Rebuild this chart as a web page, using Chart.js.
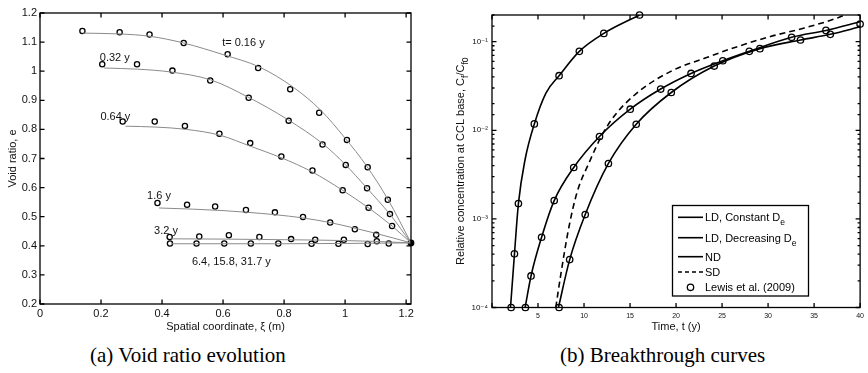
<!DOCTYPE html>
<html><head><meta charset="utf-8">
<script src="https://cdn.jsdelivr.net/npm/chart.js@4/dist/chart.umd.min.js"></script>
<style>
html,body{margin:0;padding:0;background:#fff;}
body{width:868px;height:373px;position:relative;overflow:hidden;}
.panel{position:absolute;top:0;width:434px;height:340px;}
#pa{left:0}
#pb{left:434px}
.cap{position:absolute;font-family:"Liberation Serif","Times New Roman",serif;font-size:21px;line-height:21px;white-space:nowrap;color:#000;}
</style></head><body>
<div class="panel" id="pa"><canvas id="ca"></canvas></div>
<div class="panel" id="pb"><canvas id="cb"></canvas></div>
<div class="cap" style="left:90px;top:345px">(a) Void ratio evolution</div>
<div class="cap" style="left:560px;top:345px">(b) Breakthrough curves</div>
<script>
// ---------------- Panel (a): void ratio profiles ----------------
const timeLabels = ['t= 0.16 y', '0.32 y', '0.64 y', '1.6 y', '3.2 y', '6.4, 15.8, 31.7 y'];

const xiLine016 = [0.14, 0.26, 0.36, 0.47, 0.60, 0.72, 0.83, 0.92, 1.00, 1.07, 1.14, 1.216];
const eLine016  = [1.131, 1.128, 1.120, 1.097, 1.057, 1.014, 0.945, 0.866, 0.770, 0.675, 0.560, 0.410];
const xiLine032 = [0.21, 0.32, 0.43, 0.56, 0.68, 0.81, 0.93, 1.00, 1.07, 1.147, 1.216];
const eLine032  = [1.011, 1.007, 0.997, 0.970, 0.912, 0.835, 0.748, 0.680, 0.600, 0.508, 0.410];
const xiLine064 = [0.28, 0.38, 0.48, 0.59, 0.69, 0.79, 0.89, 0.99, 1.08, 1.154, 1.216];
const eLine064  = [0.811, 0.808, 0.800, 0.780, 0.742, 0.703, 0.655, 0.592, 0.528, 0.468, 0.410];
const xiLine16  = [0.39, 0.50, 0.60, 0.68, 0.77, 0.86, 0.95, 1.03, 1.10, 1.216];
const eLine16   = [0.530, 0.526, 0.521, 0.515, 0.507, 0.496, 0.480, 0.461, 0.443, 0.410];
const xiLine32  = [0.43, 0.60, 0.80, 1.00, 1.10, 1.216];
const eLine32   = [0.424, 0.423, 0.421, 0.418, 0.415, 0.410];
const xiLine64  = [0.43, 0.80, 1.216];
const eLine64   = [0.407, 0.407, 0.410];

const xiPts016 = [0.139, 0.261, 0.359, 0.471, 0.615, 0.715, 0.820, 0.915, 1.006, 1.074, 1.140];
const ePts016  = [1.138, 1.134, 1.126, 1.097, 1.058, 1.011, 0.938, 0.857, 0.764, 0.670, 0.558];
const xiPts032 = [0.204, 0.318, 0.434, 0.558, 0.684, 0.815, 0.926, 1.002, 1.072, 1.147];
const ePts032  = [1.024, 1.024, 1.002, 0.968, 0.909, 0.830, 0.748, 0.678, 0.598, 0.509];
const xiPts064 = [0.271, 0.376, 0.475, 0.588, 0.689, 0.791, 0.893, 0.992, 1.077, 1.154];
const ePts064  = [0.827, 0.827, 0.812, 0.785, 0.753, 0.707, 0.659, 0.591, 0.531, 0.468];
const xiPts16  = [0.385, 0.482, 0.574, 0.675, 0.770, 0.862, 0.951, 1.032, 1.102];
const ePts16   = [0.547, 0.541, 0.535, 0.523, 0.515, 0.499, 0.480, 0.457, 0.438];
const xiPts32  = [0.425, 0.522, 0.619, 0.719, 0.823, 0.902, 0.996, 1.104];
const ePts32   = [0.430, 0.432, 0.436, 0.430, 0.423, 0.421, 0.421, 0.416];
const xiPts64  = [0.426, 0.513, 0.604, 0.691, 0.781, 0.890, 0.978, 1.074, 1.143];
const ePts64   = [0.408, 0.408, 0.408, 0.408, 0.408, 0.407, 0.407, 0.406, 0.408];
const xiBase = [1.216];
const eBase  = [0.410];

const xTicksA = [0, 0.2, 0.4, 0.6, 0.8, 1.0, 1.2];
const yTicksA = [0.2, 0.3, 0.4, 0.5, 0.6, 0.7, 0.8, 0.9, 1.0, 1.1, 1.2];

// ---------------- Panel (b): breakthrough curves ----------------
const legendLabels = ['LD, Constant D_e', 'LD, Decreasing D_e', 'ND', 'SD', 'Lewis et al. (2009)'];

const tLDc = [2.01, 2.44, 2.87, 3.59, 4.60, 5.86, 7.29, 9.49, 12.15, 16.03];
const cLDc = [1e-4, 4.0e-4, 1.49e-3, 4.65e-3, 0.0118, 0.0263, 0.0413, 0.0778, 0.124, 0.2];
const tLDd = [3.60, 4.24, 5.39, 6.76, 8.88, 11.68, 15.02, 18.33, 21.63, 25.08, 27.96, 32.56, 36.29, 40.0];
const cLDd = [1e-4, 2.27e-4, 6.21e-4, 1.61e-3, 3.80e-3, 8.51e-3, 0.0173, 0.0292, 0.0438, 0.0609, 0.0778, 0.112, 0.134, 0.168];
const tND  = [7.22, 8.44, 10.13, 12.65, 15.67, 19.48, 24.15, 29.11, 33.52, 36.76, 40.0];
const cND  = [1e-4, 3.47e-4, 1.12e-3, 4.22e-3, 0.0117, 0.0267, 0.0531, 0.0834, 0.1045, 0.121, 0.147];
const tSD  = [6.93, 7.47, 8.37, 9.27, 10.53, 11.97, 13.40, 15.98, 19.56, 23.16, 26.75, 30.34, 33.93, 37.52, 38.30];
const cSD  = [1e-4, 2.33e-4, 8.2e-4, 2.04e-3, 4.26e-3, 8.9e-3, 0.0150, 0.0275, 0.047, 0.0653, 0.0885, 0.115, 0.1426, 0.185, 0.2];
const tLewis = [2.08, 2.44, 2.87, 4.60, 7.29, 9.49, 12.15, 16.03,
                3.63, 4.24, 5.39, 6.76, 8.88, 11.68, 15.02, 18.33, 21.63, 25.08, 27.96, 32.56, 36.29, 40.0,
                7.29, 8.44, 10.13, 12.65, 15.67, 19.48, 24.15, 29.11, 33.52, 36.76];
const cLewis = [1e-4, 4.03e-4, 1.49e-3, 0.0118, 0.0413, 0.0778, 0.124, 0.2,
                1e-4, 2.27e-4, 6.21e-4, 1.61e-3, 3.80e-3, 8.51e-3, 0.0173, 0.0292, 0.0438, 0.0609, 0.0778, 0.112, 0.134, 0.158,
                1e-4, 3.47e-4, 1.12e-3, 4.22e-3, 0.0117, 0.0267, 0.0531, 0.0834, 0.1045, 0.121];
const xTicksB = [0, 5, 10, 15, 20, 25, 30, 35, 40];

// ---------------- helpers ----------------
const FONT = '"Liberation Sans", Arial, Helvetica, "DejaVu Sans", sans-serif';
Chart.defaults.font.family = FONT;
Chart.defaults.color = '#000';
const pts = (xs, ys) => xs.map((v, i) => ({x: v, y: ys[i]}));

function richParts(s) {
  const parts = []; const re = /_\{([^}]*)\}|_(.)/g; let last = 0, m;
  while ((m = re.exec(s))) {
    if (m.index > last) parts.push({t: s.slice(last, m.index), sub: false});
    parts.push({t: m[1] !== undefined ? m[1] : m[2], sub: true});
    last = re.lastIndex;
  }
  if (last < s.length) parts.push({t: s.slice(last), sub: false});
  return parts;
}
function drawRich(ctx, s, x, y, size, align) {
  const parts = richParts(s); const sub = size * 0.78;
  let w = 0;
  parts.forEach(p => { ctx.font = (p.sub ? sub : size) + 'px ' + FONT; p.w = ctx.measureText(p.t).width; w += p.w; });
  let cx = align === 'center' ? x - w / 2 : x;
  ctx.textBaseline = 'alphabetic'; ctx.textAlign = 'left';
  parts.forEach(p => {
    ctx.font = (p.sub ? sub : size) + 'px ' + FONT;
    ctx.fillText(p.t, cx, y + (p.sub ? size * 0.38 : 0));
    cx += p.w;
  });
}

const boxTicks = {
  id: 'boxTicks',
  afterDraw(chart, args, o) {
    const {ctx, chartArea: a, scales: {x, y}} = chart;
    ctx.save();
    ctx.strokeStyle = '#000'; ctx.lineWidth = o.lw; ctx.setLineDash([]);
    ctx.beginPath();
    x.ticks.forEach(t => {
      const p = x.getPixelForValue(t.value);
      ctx.moveTo(p, a.bottom); ctx.lineTo(p, a.bottom - o.major);
      ctx.moveTo(p, a.top); ctx.lineTo(p, a.top + o.major);
    });
    y.ticks.forEach(t => {
      const p = y.getPixelForValue(t.value);
      let L = o.major;
      if (y.type === 'logarithmic') { const l = Math.log10(t.value); if (Math.abs(l - Math.round(l)) > 1e-6) L = o.minor; }
      ctx.moveTo(a.left, p); ctx.lineTo(a.left + L, p);
      ctx.moveTo(a.right, p); ctx.lineTo(a.right - L, p);
    });
    ctx.stroke();
    ctx.strokeRect(a.left, a.top, a.right - a.left, a.bottom - a.top);
    ctx.restore();
  }
};

const curveLabels = {
  id: 'curveLabels',
  afterDatasetsDraw(chart, args, o) {
    if (!o.items) return;
    const {ctx, scales: {x, y}} = chart;
    ctx.save(); ctx.font = '11px ' + FONT; ctx.fillStyle = '#111';
    ctx.textBaseline = 'middle'; ctx.textAlign = 'left';
    o.items.forEach(it => ctx.fillText(it.text, x.getPixelForValue(it.x), y.getPixelForValue(it.y)));
    ctx.restore();
  }
};

// ---------------- Chart (a) ----------------
const lineA = (xs, ys) => ({data: pts(xs, ys), showLine: true, borderColor: '#8a8a8a', borderWidth: 1,
  pointRadius: 0, cubicInterpolationMode: 'monotone', fill: false});
const ptsA = (xs, ys) => ({data: pts(xs, ys), showLine: false, pointStyle: 'circle', pointRadius: 2.6,
  pointBorderWidth: 1.3, pointBorderColor: '#000', pointBackgroundColor: 'rgba(0,0,0,0)', clip: false});

const labelAnchorsA = [[0.597, 1.098], [0.196, 1.047], [0.198, 0.844], [0.351, 0.571], [0.374, 0.451], [0.498, 0.345]];

new Chart(document.getElementById('ca'), {
  type: 'scatter',
  data: {datasets: [
    lineA(xiLine016, eLine016), lineA(xiLine032, eLine032), lineA(xiLine064, eLine064),
    lineA(xiLine16, eLine16), lineA(xiLine32, eLine32), lineA(xiLine64, eLine64),
    ptsA(xiPts016, ePts016), ptsA(xiPts032, ePts032), ptsA(xiPts064, ePts064),
    ptsA(xiPts16, ePts16), ptsA(xiPts32, ePts32), ptsA(xiPts64, ePts64),
    {data: pts(xiBase, eBase), showLine: false, pointRadius: 3.4, pointBackgroundColor: '#000', pointBorderColor: '#000', pointBorderWidth: 0, clip: false}
  ]},
  options: {
    responsive: true, maintainAspectRatio: false, animation: false, devicePixelRatio: 1,
    layout: {padding: {left: 0, right: 23, top: 13, bottom: 0}},
    plugins: {legend: {display: false}, tooltip: {enabled: false},
      boxTicks: {lw: 1.3, major: 4.5, minor: 2.5},
      curveLabels: {items: timeLabels.map((t, i) => ({text: t, x: labelAnchorsA[i][0], y: labelAnchorsA[i][1]}))}},
    scales: {
      x: {type: 'linear', min: 0, max: 1.216,
        afterBuildTicks: s => { s.ticks = xTicksA.map(v => ({value: v})); },
        afterFit: s => { s.height = 36; },
        grid: {display: false, drawTicks: false}, border: {display: false},
        ticks: {font: {size: 11}, color: '#111', padding: 3, maxRotation: 0, autoSkip: false,
          callback: v => String(+(+v).toFixed(1))},
        title: {display: true, text: 'Spatial coordinate, ξ (m)', font: {size: 11}, color: '#111', padding: {top: 0, bottom: 6}}},
      y: {type: 'linear', min: 0.2, max: 1.2,
        afterBuildTicks: s => { s.ticks = yTicksA.map(v => ({value: v})); },
        afterFit: s => { s.width = 40; },
        grid: {display: false, drawTicks: false}, border: {display: false},
        ticks: {font: {size: 11}, color: '#111', padding: 3, autoSkip: false,
          callback: v => String(+(+v).toFixed(1))},
        title: {display: true, text: 'Void ratio, e', font: {size: 11}, color: '#111', padding: {top: 6, bottom: 0}}}
    }
  },
  plugins: [boxTicks, curveLabels]
});

// ---------------- Chart (b) ----------------
const lineB = (xs, ys, dash) => ({data: pts(xs, ys), showLine: true, borderColor: '#000', borderWidth: 1.6,
  borderDash: dash || [], pointRadius: 0, cubicInterpolationMode: 'monotone', fill: false});

const legendB = {
  id: 'legendB',
  afterDraw(chart, args, o) {
    const ctx = chart.ctx; ctx.save();
    ctx.fillStyle = '#fff'; ctx.fillRect(o.x0, o.y0, o.x1 - o.x0, o.y1 - o.y0);
    ctx.strokeStyle = '#000'; ctx.lineWidth = 1.3; ctx.setLineDash([]);
    ctx.strokeRect(o.x0, o.y0, o.x1 - o.x0, o.y1 - o.y0);
    legendLabels.forEach((lab, i) => {
      const ds = chart.data.datasets[i]; const yy = o.rows[i];
      if (ds.showLine) {
        ctx.save(); ctx.lineWidth = ds.borderWidth; ctx.strokeStyle = '#000';
        ctx.setLineDash(ds.borderDash && ds.borderDash.length ? [4, 3] : []);
        ctx.beginPath(); ctx.moveTo(o.lx0, yy); ctx.lineTo(o.lx1, yy); ctx.stroke(); ctx.restore();
      } else {
        ctx.save(); ctx.lineWidth = ds.pointBorderWidth; ctx.strokeStyle = '#000';
        ctx.beginPath(); ctx.arc((o.lx0 + o.lx1) / 2, yy, ds.pointRadius, 0, Math.PI * 2); ctx.stroke(); ctx.restore();
      }
      ctx.fillStyle = '#000';
      drawRich(ctx, lab, o.tx, yy + 4, 11, 'left');
    });
    ctx.restore();
  }
};
const yTitleB = {
  id: 'yTitleB',
  afterDraw(chart, args, o) {
    const ctx = chart.ctx; ctx.save();
    ctx.translate(o.x, (chart.chartArea.top + chart.chartArea.bottom) / 2);
    ctx.rotate(-Math.PI / 2); ctx.fillStyle = '#111';
    drawRich(ctx, o.text, 0, 4, 11, 'center');
    ctx.restore();
  }
};
const supMap = {'-': '⁻', '0': '⁰', '1': '¹', '2': '²', '3': '³', '4': '⁴'};

new Chart(document.getElementById('cb'), {
  type: 'scatter',
  data: {datasets: [
    lineB(tLDc, cLDc), lineB(tLDd, cLDd), lineB(tND, cND), lineB(tSD, cSD, [6, 4]),
    {data: pts(tLewis, cLewis), showLine: false, pointRadius: 3.2, pointBorderWidth: 1.3,
      pointBorderColor: '#000', pointBackgroundColor: 'rgba(0,0,0,0)', clip: false}
  ]},
  options: {
    responsive: true, maintainAspectRatio: false, animation: false, devicePixelRatio: 1,
    layout: {padding: {left: 0, right: 5, top: 15, bottom: 0}},
    plugins: {legend: {display: false}, tooltip: {enabled: false},
      boxTicks: {lw: 1.3, major: 4.5, minor: 2.5},
      legendB: {x0: 238.5, y0: 205.5, x1: 374.5, y1: 296, lx0: 244, lx1: 269, tx: 271, rows: [217.3, 237.7, 256.7, 272, 287.3]},
      yTitleB: {x: 26, text: 'Relative concentration at CCL base, C_{f}/C_{f0}'}},
    scales: {
      x: {type: 'linear', min: 0, max: 40,
        afterBuildTicks: s => { s.ticks = xTicksB.map(v => ({value: v})); },
        afterFit: s => { s.height = 32.5; },
        grid: {display: false, drawTicks: false}, border: {display: false},
        ticks: {font: {size: 7}, color: '#111', padding: 4, maxRotation: 0, autoSkip: false,
          callback: v => v === 0 ? '' : String(v)},
        title: {display: true, text: 'Time, t (y)', font: {size: 11}, color: '#111', padding: {top: 0, bottom: 6}}},
      y: {type: 'logarithmic', min: 1e-4, max: 0.2,
        afterFit: s => { s.width = 58; },
        grid: {display: false, drawTicks: false}, border: {display: false},
        ticks: {font: {size: 8}, color: '#111', padding: 4, autoSkip: false,
          callback: v => { const l = Math.log10(v); if (Math.abs(l - Math.round(l)) > 1e-6) return '';
            return '10' + String(Math.round(l)).split('').map(c => supMap[c]).join(''); }},
        title: {display: false}}
    }
  },
  plugins: [boxTicks, legendB, yTitleB]
});
</script>
</body></html>
